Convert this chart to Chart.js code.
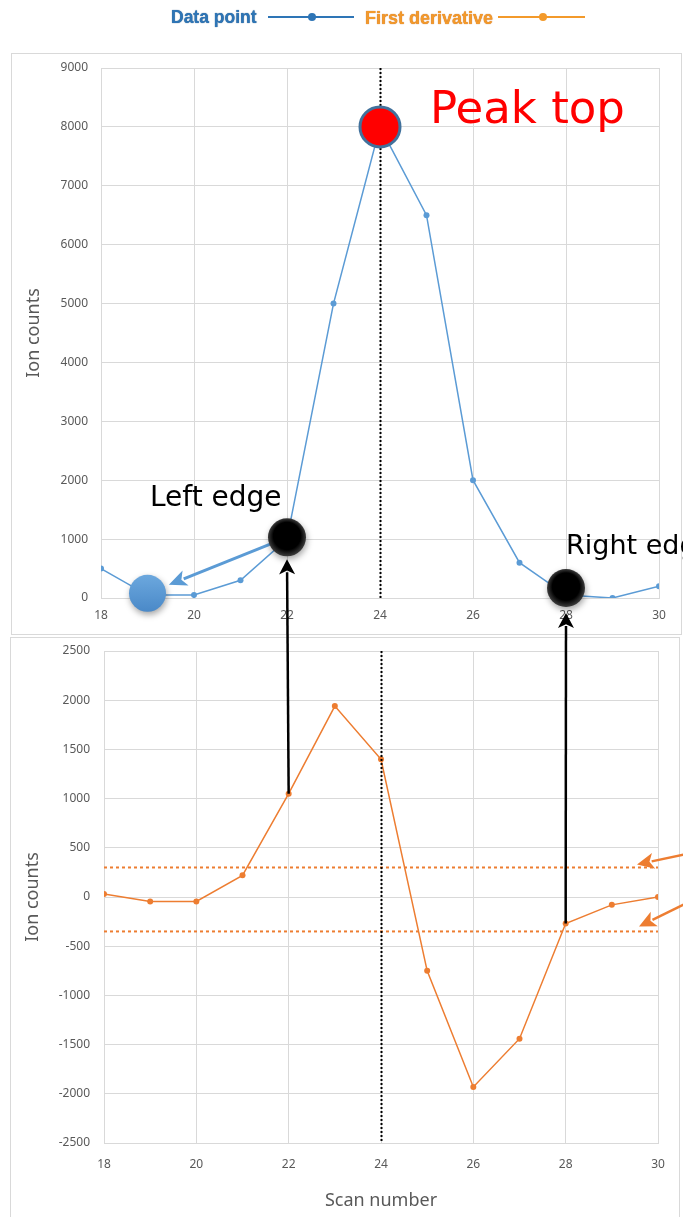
<!DOCTYPE html>
<html>
<head>
<meta charset="utf-8">
<script src="https://cdn.jsdelivr.net/npm/chart.js@4.4.1/dist/chart.umd.min.js"></script>
<style>
html,body{margin:0;padding:0;background:#fff;}
body{width:683px;height:1217px;overflow:hidden;position:relative;font-family:"Noto Sans",sans-serif;}
#box1{position:absolute;left:11px;top:53px;width:669px;height:580px;border:1px solid #D9D9D9;}
#box2{position:absolute;left:10px;top:637px;width:668px;height:620px;border:1px solid #D9D9D9;}
#c1{position:absolute;left:11px;top:53px;}
#c2{position:absolute;left:11px;top:638px;}
#ov{position:absolute;left:0;top:0;pointer-events:none;}
.lab{position:absolute;white-space:nowrap;font-family:"DejaVu Sans",sans-serif;line-height:1;}
.lg{position:absolute;white-space:nowrap;font-family:"Liberation Sans",Arial,sans-serif;font-weight:bold;line-height:1;}
.ll{position:absolute;height:2px;}
.ld{position:absolute;width:8px;height:8px;border-radius:50%;}
</style>
</head>
<body>
<div id="box1"></div>
<div id="box2"></div>
<canvas id="c1" width="670" height="581"></canvas>
<canvas id="c2" width="668" height="579"></canvas>
<canvas id="ov" width="683" height="1217"></canvas>

<div class="lg" style="left:171px;top:9px;font-size:17.5px;color:#2E75B6;text-shadow:0 0 1px #1F4E79;">Data point</div>
<div class="ll" style="left:268px;top:16px;width:86px;background:#2E75B6;"></div>
<div class="ld" style="left:308px;top:13px;background:#2E75B6;"></div>
<div class="lg" style="left:365px;top:9px;font-size:18px;color:#F39A2B;text-shadow:0 0 1px #B8560F;">First derivative</div>
<div class="ll" style="left:498px;top:16px;width:87px;background:#F39A2B;"></div>
<div class="ld" style="left:539px;top:13px;background:#F39A2B;"></div>

<div class="lab" style="left:430px;top:85px;font-size:45px;color:#FF0000;">Peak top</div>
<div class="lab" style="left:150px;top:483px;font-size:28px;color:#000;">Left edge</div>
<div class="lab" style="left:566px;top:531px;font-size:27px;color:#000;">Right edge</div>

<script>
// ---- data ----
const scans = [18, 19, 20, 21, 22, 23, 24, 25, 26, 27, 28, 29, 30];
const ionCounts = [500, 50, 50, 300, 1000, 5000, 8000, 6500, 2000, 600, 50, 0, 200];
const firstDerivative = [30, -45, -45, 220, 1050, 1940, 1400, -750, -1930, -1440, -270, -80, 0];
const upperThreshold = 300;
const lowerThreshold = -350;
const xRange = [18, 30];
const xStep = 2;
const topYRange = [0, 9000];
const topYStep = 1000;
const bottomYRange = [-2500, 2500];
const bottomYStep = 500;
const apexScan = 24;
const markerScans = [19, 22, 24, 28];
const markerCounts = [80, 1030, 8000, 170];

const TICK = '#595959';
const GRID = '#D9D9D9';
const BLUE = '#5B9BD5';
const ORANGE = '#ED7D31';

function xy(xs, ys) { return xs.map((x, i) => ({x: x, y: ys[i]})); }

function xScale(padding, height, withTitle) {
  return {
    type: 'linear', min: xRange[0], max: xRange[1],
    ticks: {stepSize: xStep, color: TICK, padding: padding, font: {family: 'Noto Sans', size: 12},
      format: {useGrouping: false}},
    grid: {color: GRID, drawTicks: false},
    border: {color: GRID},
    title: withTitle ? {display: true, text: 'Scan number', color: TICK,
      font: {family: 'Noto Sans', size: 18}, padding: {top: 0, bottom: 5}} : {display: false},
    afterFit: s => { s.height = height; }
  };
}
function yScale(range, step, width, tickPad, titlePad) {
  return {
    type: 'linear', min: range[0], max: range[1],
    ticks: {stepSize: step, color: TICK, padding: tickPad, font: {family: 'Noto Sans', size: 12},
      format: {useGrouping: false}},
    grid: {color: GRID, drawTicks: false},
    border: {color: GRID},
    title: {display: true, text: 'Ion counts', color: TICK,
      font: {family: 'Noto Sans', size: 18}, padding: {top: titlePad, bottom: 0}},
    afterFit: s => { s.width = width; s.paddingTop = 0; s.paddingBottom = 0; }
  };
}

const apexLine = {
  id: 'apexLine',
  afterDatasetsDraw(chart) {
    const {ctx, chartArea} = chart;
    const x = Math.round(chart.scales.x.getPixelForValue(apexScan)) + 0.5;
    ctx.save();
    ctx.strokeStyle = '#000'; ctx.lineWidth = 2; ctx.setLineDash([2, 2]);
    ctx.beginPath(); ctx.moveTo(x, chartArea.top); ctx.lineTo(x, chartArea.bottom); ctx.stroke();
    ctx.restore();
  }
};

const chartTop = new Chart(document.getElementById('c1'), {
  type: 'line',
  data: {
    datasets: [{
      label: 'Data point',
      data: xy(scans, ionCounts),
      borderColor: BLUE, backgroundColor: BLUE,
      borderWidth: 1.5, pointRadius: 3, pointBorderWidth: 0,
      pointBackgroundColor: BLUE, tension: 0
    }]
  },
  options: {
    responsive: false, animation: false,
    layout: {padding: {left: 0, right: 22, top: 15, bottom: 0}},
    plugins: {legend: {display: false}, tooltip: {enabled: false}},
    scales: {x: xScale(10, 36, false), y: yScale(topYRange, topYStep, 90, 13, 12)}
  },
  plugins: [apexLine]
});

const chartBottom = new Chart(document.getElementById('c2'), {
  type: 'line',
  data: {
    datasets: [{
      label: 'Upper threshold',
      data: xy(xRange, [upperThreshold, upperThreshold]),
      borderColor: ORANGE, borderWidth: 2, borderDash: [3, 3], pointRadius: 0
    }, {
      label: 'Lower threshold',
      data: xy(xRange, [lowerThreshold, lowerThreshold]),
      borderColor: ORANGE, borderWidth: 2, borderDash: [3, 3], pointRadius: 0
    }, {
      label: 'First derivative',
      data: xy(scans, firstDerivative),
      borderColor: ORANGE, backgroundColor: ORANGE,
      borderWidth: 1.5, pointRadius: 3, pointBorderWidth: 0,
      pointBackgroundColor: ORANGE, tension: 0
    }]
  },
  options: {
    responsive: false, animation: false,
    layout: {padding: {left: 0, right: 21, top: 13, bottom: 0}},
    plugins: {legend: {display: false}, tooltip: {enabled: false}},
    scales: {x: xScale(14, 74, true), y: yScale(bottomYRange, bottomYStep, 93, 14, 11)}
  },
  plugins: [apexLine]
});

function arrow(ctx, x0, y0, x1, y1, color, lw, headLen, headHalf) {
  const dx = x1 - x0, dy = y1 - y0, L = Math.hypot(dx, dy);
  const ux = dx / L, uy = dy / L;
  const bx = x1 - ux * headLen, by = y1 - uy * headLen;
  ctx.save();
  ctx.strokeStyle = color; ctx.fillStyle = color; ctx.lineWidth = lw;
  ctx.beginPath(); ctx.moveTo(x0, y0); ctx.lineTo(bx + ux * 2, by + uy * 2); ctx.stroke();
  ctx.beginPath();
  ctx.moveTo(x1, y1);
  ctx.lineTo(bx - uy * headHalf, by + ux * headHalf);
  ctx.lineTo(bx + ux * headLen * 0.25, by + uy * headLen * 0.25);
  ctx.lineTo(bx + uy * headHalf, by - ux * headHalf);
  ctx.closePath(); ctx.fill();
  ctx.restore();
}

function drawOverlay() {
  const ctx = document.getElementById('ov').getContext('2d');
  ctx.clearRect(0, 0, 683, 1217);
  const T = {ox: 11, oy: 53, c: chartTop}, B = {ox: 11, oy: 638, c: chartBottom};
  const px = (o, v) => o.ox + o.c.scales.x.getPixelForValue(v);
  const py = (o, v) => o.oy + o.c.scales.y.getPixelForValue(v);

  const m = markerScans.map((s, i) => ({x: px(T, s), y: py(T, markerCounts[i])}));
  const radii = [18.5, 19, 21.5, 19];

  // blue arrow from left-edge marker to start marker
  {
    const a = m[1], b = m[0];
    const dx = b.x - a.x, dy = b.y - a.y, L = Math.hypot(dx, dy);
    const ux = dx / L, uy = dy / L;
    arrow(ctx, a.x + ux * 10, a.y + uy * 10, b.x - ux * (radii[0] + 4.5), b.y - uy * (radii[0] + 4.5), BLUE, 3, 18, 8);
  }

  // orange arrows pointing to threshold lines
  const rx = px(B, xRange[1]);
  arrow(ctx, rx + 40, py(B, upperThreshold) - 16, rx - 21, py(B, upperThreshold) - 3, ORANGE, 2.5, 17, 8);
  arrow(ctx, rx + 36, py(B, lowerThreshold) - 32, rx - 19, py(B, lowerThreshold) - 5, ORANGE, 2.5, 17, 8);

  // black arrows from derivative points up to edge markers
  arrow(ctx, px(B, 22), py(B, firstDerivative[scans.indexOf(22)]), m[1].x, m[1].y + radii[1] + 3, '#000', 2.5, 15, 8);
  arrow(ctx, px(B, 28), py(B, firstDerivative[scans.indexOf(28)]), m[3].x, m[3].y + radii[3] + 6, '#000', 2.5, 15, 8);

  function shadowOn() {
    ctx.shadowColor = 'rgba(0,0,0,0.35)'; ctx.shadowBlur = 6; ctx.shadowOffsetX = 1; ctx.shadowOffsetY = 3;
  }
  // blue start marker
  ctx.save(); shadowOn();
  let g = ctx.createLinearGradient(0, m[0].y - radii[0], 0, m[0].y + radii[0]);
  g.addColorStop(0, '#6CA8DE'); g.addColorStop(1, '#4A89C8');
  ctx.fillStyle = g;
  ctx.beginPath(); ctx.arc(m[0].x, m[0].y, radii[0], 0, Math.PI * 2); ctx.fill();
  ctx.restore();
  // black edge markers
  [1, 3].forEach(i => {
    ctx.save(); shadowOn();
    const gg = ctx.createRadialGradient(m[i].x, m[i].y - 5, 0, m[i].x, m[i].y, radii[i]);
    gg.addColorStop(0, '#000'); gg.addColorStop(0.72, '#000'); gg.addColorStop(1, '#3C3C3C');
    ctx.fillStyle = gg;
    ctx.beginPath(); ctx.arc(m[i].x, m[i].y, radii[i], 0, Math.PI * 2); ctx.fill();
    ctx.restore();
  });
  // red peak marker
  ctx.save();
  ctx.fillStyle = '#FF0000'; ctx.strokeStyle = '#41719C'; ctx.lineWidth = 3;
  ctx.beginPath(); ctx.arc(m[2].x, m[2].y, radii[2] - 1.5, 0, Math.PI * 2); ctx.fill(); ctx.stroke();
  ctx.restore();
}
drawOverlay();
</script>
</body>
</html>
